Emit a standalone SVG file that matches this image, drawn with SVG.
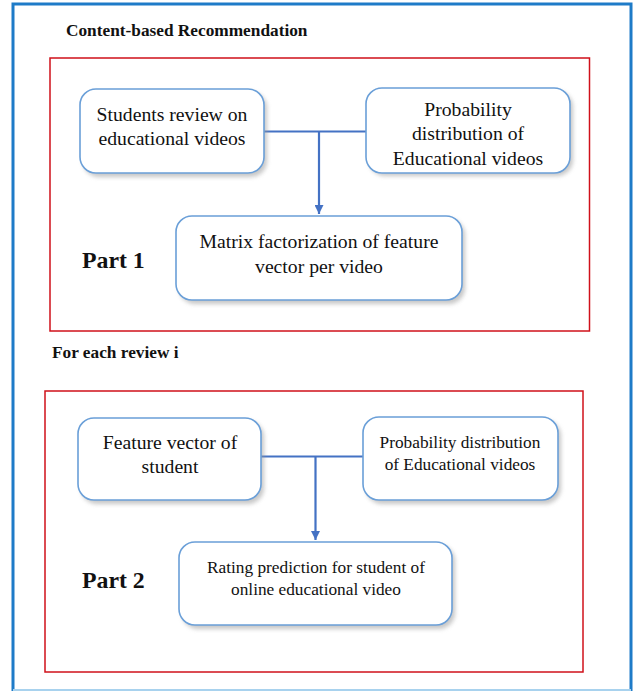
<svg xmlns="http://www.w3.org/2000/svg" width="636" height="691" viewBox="0 0 636 691">
<style>
  .frame{fill:none;stroke:#1e7bc8;stroke-width:3}
  .part{fill:none;stroke:#d0101a;stroke-width:1.5}
  .box{fill:#ffffff;stroke:#6a9fd8;stroke-width:1.6}
  .shadow{fill:#9a9a9a;opacity:0.55;filter:url(#blur)}
  .t{font-family:"Liberation Serif","Times New Roman",serif;fill:#111;text-anchor:middle}
  .big{font-size:19.7px}
  .small{font-size:17.3px}
  .hdr{font-family:"Liberation Serif","Times New Roman",serif;font-weight:bold;fill:#111;font-size:17.3px}
  .partl{font-family:"Liberation Serif","Times New Roman",serif;font-weight:bold;fill:#111;font-size:23.8px}
  .conn{fill:none;stroke:#4472c4;stroke-width:2.2}
</style>
<defs>
  <filter id="blur" x="-10%" y="-10%" width="120%" height="130%"><feGaussianBlur stdDeviation="2"/></filter>
  <marker id="ah" viewBox="0 0 10 10" refX="10" refY="5" markerWidth="9" markerHeight="9" markerUnits="userSpaceOnUse" orient="auto">
    <path d="M0,0 L10,5 L0,10 Z" fill="#4472c4"/>
  </marker>
</defs>
<rect width="636" height="691" fill="#ffffff"/>
<rect class="frame" x="13" y="4" width="618" height="690"/>
<line x1="13" y1="690" x2="631" y2="690" stroke="#a8d2ee" stroke-width="2"/>

<text class="hdr" x="66" y="36">Content-based Recommendation</text>
<rect class="part" x="50" y="58" width="539.5" height="273"/>
<text class="partl" x="82" y="268">Part 1</text>

<text class="hdr" x="52" y="358">For each review i</text>
<rect class="part" x="45" y="391" width="538" height="281"/>
<text class="partl" x="82" y="588">Part 2</text>

<g id="connectors">
  <line class="conn" x1="264" y1="131.5" x2="366" y2="131.5"/>
  <line class="conn" x1="319" y1="131.5" x2="319" y2="214" marker-end="url(#ah)"/>
  <line class="conn" x1="261" y1="456.5" x2="363" y2="456.5"/>
  <line class="conn" x1="315.5" y1="456.5" x2="315.5" y2="540" marker-end="url(#ah)"/>
</g>

<g id="n1">
  <rect class="shadow" x="83" y="92" width="184" height="85" rx="16"/>
  <rect class="box" x="80" y="89" width="184" height="84" rx="16"/>
  <text class="t big" x="172" y="121">Students review on</text>
  <text class="t big" x="172" y="145">educational videos</text>
</g>
<g id="n2">
  <rect class="shadow" x="369" y="91" width="204" height="85" rx="16"/>
  <rect class="box" x="366" y="88" width="204" height="85" rx="16"/>
  <text class="t big" x="468" y="116">Probability</text>
  <text class="t big" x="468" y="140">distribution of</text>
  <text class="t big" x="468" y="165">Educational videos</text>
</g>
<g id="n3">
  <rect class="shadow" x="179" y="219" width="286" height="85" rx="16"/>
  <rect class="box" x="176" y="216" width="286" height="84" rx="16"/>
  <text class="t big" x="319" y="248">Matrix factorization of feature</text>
  <text class="t big" x="319" y="273">vector per video</text>
</g>
<g id="n4">
  <rect class="shadow" x="81" y="421" width="183" height="83" rx="16"/>
  <rect class="box" x="78" y="418" width="183" height="82" rx="16"/>
  <text class="t big" x="170" y="449">Feature vector of</text>
  <text class="t big" x="170" y="473">student</text>
</g>
<g id="n5">
  <rect class="shadow" x="366" y="420" width="195" height="84" rx="16"/>
  <rect class="box" x="363" y="417" width="195" height="83" rx="16"/>
  <text class="t small" x="460" y="448">Probability distribution</text>
  <text class="t small" x="460" y="470">of Educational videos</text>
</g>
<g id="n6">
  <rect class="shadow" x="182" y="545" width="273" height="84" rx="16"/>
  <rect class="box" x="179" y="542" width="273" height="83" rx="16"/>
  <text class="t small" x="316" y="573">Rating prediction for student of</text>
  <text class="t small" x="316" y="595">online educational video</text>
</g>
</svg>
